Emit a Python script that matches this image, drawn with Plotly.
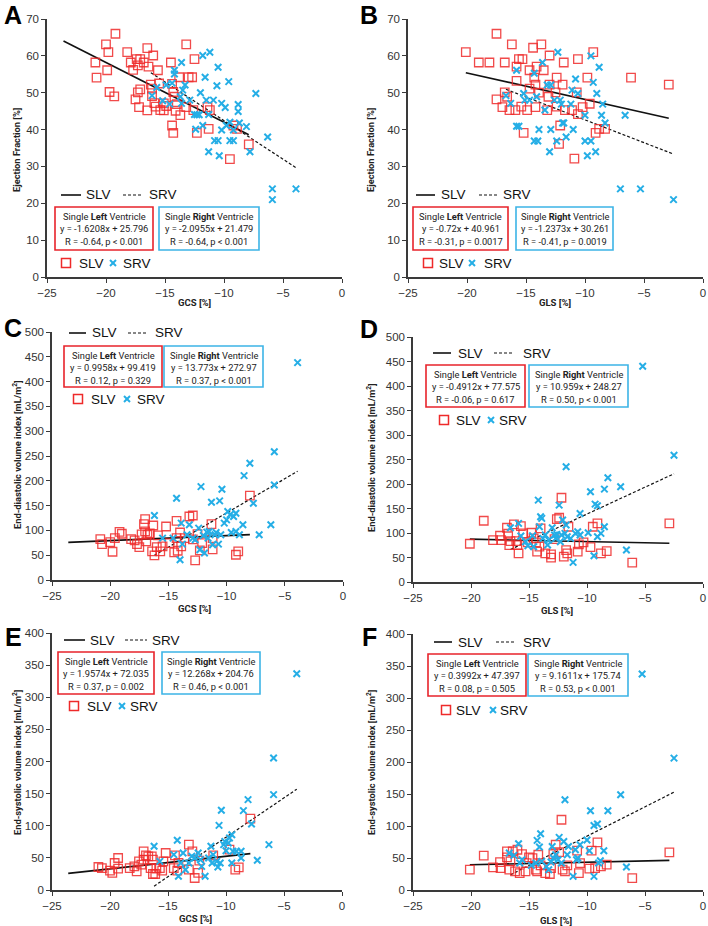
import plotly.graph_objects as go

# ---- data ----
# A: EF vs GCS
ef_gcs_slv_x = [-20.9, -20.8, -20.0, -19.8, -19.9, -19.7, -19.2, -19.3, -18.2, -17.9, -17.7, -17.4, -17.3, -17.1, -17.1, -17.3, -17.5, -17.2, -16.8, -16.5, -16.4, -16.5, -16.0, -16.2, -16.1, -16.1, -15.9, -15.8, -15.6, -15.5, -15.4, -15.1, -15.1, -14.5, -14.4, -14.3, -14.4, -14.3, -14.2, -14.1, -13.8, -13.7, -13.2, -13.0, -12.7, -12.5, -12.6, -12.3, -13.2, -11.4, -11.3, -11.2, -9.2, -8.9, -7.9, -9.5, -14.9, -14.0]
ef_gcs_slv_y = [58.2, 54.1, 63.1, 61.0, 56.1, 50.2, 66.0, 49.0, 61.0, 58.2, 56.2, 59.1, 57.4, 59.1, 50.9, 50.1, 48.2, 46.1, 58.2, 62.1, 57.1, 45.2, 60.1, 52.2, 51.1, 49.1, 47.2, 46.2, 56.1, 52.5, 45.3, 47.1, 45.2, 58.2, 52.4, 50.2, 41.1, 39.1, 48.9, 45.1, 54.2, 43.9, 63.1, 54.2, 54.2, 59.1, 45.3, 39.1, 46.1, 46.1, 40.2, 45.3, 41.1, 40.2, 36.0, 32.0, 46.4, 46.9]
ef_gcs_srv_x = [-16.1, -15.7, -15.2, -14.9, -14.2, -14.2, -14.4, -14.6, -13.6, -13.5, -13.3, -13.7, -13.6, -12.9, -12.5, -12.3, -12.1, -12.4, -11.8, -11.2, -11.6, -12.0, -11.5, -11.3, -11.8, -11.3, -10.9, -10.8, -10.6, -10.5, -10.5, -10.4, -10.2, -9.9, -10.2, -9.8, -9.6, -9.5, -9.5, -9.2, -9.2, -8.8, -8.8, -8.7, -8.1, -7.8, -7.3, -6.3, -5.9, -5.9, -3.9]
ef_gcs_srv_y = [49.2, 51.4, 47.8, 52.1, 56.1, 55.1, 52.6, 46.9, 58.2, 50.7, 52.1, 48.9, 47.1, 48.0, 44.1, 44.0, 44.0, 40.1, 60.1, 61.0, 54.2, 50.0, 48.0, 44.1, 41.1, 34.0, 48.0, 37.0, 51.9, 56.9, 37.0, 32.9, 47.1, 46.0, 39.9, 41.1, 53.0, 42.0, 37.0, 37.0, 39.9, 46.8, 44.9, 41.8, 40.8, 34.0, 49.8, 38.0, 23.9, 21.0, 23.9]

# B: EF vs GLS
ef_gls_slv_x = [-20.1, -19.0, -18.1, -17.5, -17.5, -17.0, -16.8, -16.8, -16.6, -16.4, -16.2, -15.9, -15.8, -15.8, -15.6, -15.4, -15.3, -15.2, -14.9, -14.7, -14.7, -14.4, -14.3, -14.2, -14.2, -14.1, -13.9, -13.7, -13.5, -13.2, -13.1, -13.0, -13.0, -12.5, -12.4, -12.4, -12.2, -11.9, -11.8, -12.1, -11.7, -11.1, -10.9, -10.7, -10.6, -10.6, -10.2, -9.8, -9.6, -9.3, -9.1, -8.8, -8.3, -6.1, -2.9]
ef_gls_slv_y = [61.0, 58.2, 58.2, 66.0, 48.2, 46.1, 58.2, 50.1, 48.9, 45.3, 63.1, 45.3, 57.1, 53.2, 59.1, 46.2, 59.1, 39.1, 45.3, 56.1, 51.1, 62.2, 54.1, 52.2, 46.1, 57.1, 50.0, 63.1, 56.1, 45.3, 48.9, 52.2, 60.1, 50.1, 54.1, 46.2, 36.1, 52.2, 58.2, 41.1, 45.3, 45.3, 32.1, 50.1, 59.1, 44.2, 46.1, 54.1, 47.0, 61.0, 39.1, 40.2, 40.2, 54.1, 52.2]
ef_gls_srv_x = [-16.7, -16.3, -15.8, -15.8, -15.6, -15.2, -15.1, -14.7, -14.3, -14.3, -14.0, -14.1, -13.9, -13.6, -13.4, -13.2, -12.9, -13.0, -12.9, -12.6, -12.3, -12.4, -12.1, -12.0, -11.9, -11.8, -11.6, -11.2, -11.1, -11.0, -10.8, -10.6, -10.0, -10.0, -9.8, -9.5, -9.5, -9.3, -9.1, -9.0, -8.8, -8.6, -8.5, -8.3, -6.6, -7.0, -5.3, -2.5]
ef_gls_srv_y = [49.2, 47.1, 56.1, 40.9, 40.9, 49.8, 48.0, 48.0, 55.3, 36.9, 36.9, 48.9, 40.0, 58.2, 45.3, 52.1, 52.1, 34.0, 40.0, 48.0, 61.0, 36.9, 48.0, 46.9, 41.8, 41.8, 38.0, 46.9, 50.7, 40.0, 53.7, 49.8, 43.9, 36.9, 32.9, 36.9, 60.0, 52.8, 34.0, 49.8, 56.9, 43.9, 46.9, 41.8, 43.9, 23.9, 23.9, 21.0]

# C: EDVi vs GCS
edv_gcs_slv_x = [-20.85, -20.7, -20.0, -19.8, -19.6, -19.2, -19.0, -18.2, -17.9, -17.7, -17.5, -17.3, -17.1, -17.0, -17.0, -16.9, -16.8, -16.6, -16.4, -16.3, -16.2, -16.0, -15.9, -15.7, -15.5, -15.2, -14.9, -14.5, -14.3, -14.3, -14.2, -14.0, -13.9, -13.6, -13.2, -12.9, -12.9, -12.7, -12.5, -12.3, -12.1, -11.3, -11.2, -11.2, -9.2, -9.0, -8.0]
edv_gcs_slv_y = [82.4, 72.4, 76.4, 57.0, 84.5, 97.2, 93.2, 82.4, 79.8, 72.4, 66.4, 91.8, 112.6, 122.7, 97.9, 77.7, 91.2, 93.8, 57.6, 109.9, 49.6, 66.4, 89.8, 57.6, 67.7, 107.9, 74.4, 55.6, 84.5, 119.3, 59.0, 95.8, 67.7, 84.5, 128.0, 130.0, 81.8, 39.5, 92.5, 59.7, 74.4, 112.6, 61.7, 84.5, 50.9, 57.6, 170.2]
edv_gcs_srv_x = [-16.2, -15.5, -14.6, -14.3, -13.9, -13.8, -14.0, -13.4, -13.2, -12.9, -12.7, -12.4, -12.2, -12.3, -12.0, -11.9, -11.7, -11.6, -11.5, -11.3, -11.2, -11.0, -10.9, -10.6, -10.7, -10.4, -10.5, -10.2, -10.0, -9.9, -9.7, -9.6, -9.4, -9.2, -9.2, -8.9, -8.6, -8.5, -8.0, -7.7, -7.2, -6.2, -5.9, -5.9, -3.9]
edv_gcs_srv_y = [130.0, 84.5, 84.5, 164.9, 114.6, 72.4, 40.9, 91.2, 111.3, 84.5, 81.1, 104.6, 188.3, 61.0, 89.8, 54.3, 96.5, 84.5, 97.9, 156.8, 71.0, 91.2, 95.8, 159.5, 72.4, 183.0, 91.2, 114.6, 121.3, 138.1, 131.4, 95.8, 128.0, 134.7, 97.9, 91.2, 111.3, 210.5, 235.3, 154.8, 91.2, 111.3, 191.7, 258.7, 438.3]

# D: EDVi vs GLS
edv_gls_slv_x = [-20.1, -18.9, -18.1, -17.5, -17.4, -16.9, -16.8, -16.7, -16.6, -16.3, -16.1, -16.0, -15.9, -15.7, -15.5, -15.1, -14.8, -14.6, -14.4, -14.3, -14.1, -14.0, -13.6, -13.1, -13.1, -12.8, -12.6, -12.4, -12.2, -12.0, -11.8, -11.7, -11.6, -10.8, -10.7, -10.3, -9.5, -9.7, -9.1, -8.8, -8.3, -6.1, -2.9]
edv_gls_slv_y = [78.1, 125.0, 85.6, 94.4, 85.6, 110.7, 98.5, 75.4, 83.6, 117.5, 83.6, 75.4, 58.4, 114.1, 99.2, 80.8, 100.5, 89.0, 80.8, 61.8, 72.0, 109.4, 58.4, 49.6, 56.4, 87.6, 128.4, 131.1, 171.9, 51.6, 65.2, 58.4, 112.8, 61.8, 76.8, 80.8, 112.8, 71.3, 119.6, 58.4, 63.2, 39.4, 119.6]
edv_gls_srv_x = [-16.6, -15.9, -15.7, -15.3, -15.1, -14.7, -14.6, -14.2, -14.1, -14.0, -13.9, -13.8, -13.6, -13.4, -13.3, -13.0, -12.8, -12.7, -12.6, -12.4, -12.3, -12.2, -12.1, -11.9, -11.8, -11.8, -11.7, -11.4, -11.2, -11.0, -10.8, -10.6, -10.6, -9.9, -9.7, -9.4, -9.3, -9.1, -9.1, -8.8, -8.5, -8.5, -8.2, -7.1, -6.6, -5.2, -2.5]
edv_gls_srv_y = [110.7, 119.6, 93.8, 82.2, 74.0, 94.4, 72.0, 167.1, 112.8, 133.2, 129.8, 89.0, 95.8, 75.4, 85.6, 110.7, 95.8, 89.0, 97.1, 156.9, 82.2, 95.8, 126.4, 99.2, 235.1, 116.2, 92.4, 89.0, 40.1, 99.2, 102.6, 95.8, 139.9, 100.5, 184.1, 53.7, 159.0, 155.6, 92.4, 99.2, 189.5, 112.8, 212.6, 194.3, 65.2, 440.2, 258.8]

# E: ESVi vs GCS
esv_gcs_slv_x = [-21.0, -20.7, -20.0, -19.8, -19.6, -19.3, -19.3, -18.3, -17.9, -17.7, -17.5, -17.3, -17.1, -17.1, -16.9, -16.7, -16.5, -16.4, -16.3, -16.3, -16.1, -16.0, -15.7, -15.5, -15.4, -15.2, -14.5, -14.4, -14.2, -14.1, -13.2, -13.2, -12.9, -12.7, -12.4, -12.3, -11.1, -9.7, -9.2, -8.9, -7.9]
esv_gcs_slv_y = [35.8, 34.2, 30.1, 26.5, 42.0, 49.8, 33.2, 34.2, 36.8, 29.1, 44.6, 39.4, 60.2, 47.2, 54.0, 52.4, 34.2, 52.4, 47.2, 24.9, 24.9, 33.2, 34.2, 30.1, 44.6, 57.6, 34.2, 54.0, 30.1, 42.0, 70.6, 31.6, 60.2, 18.7, 26.5, 45.7, 54.0, 62.8, 31.6, 35.3, 111.0]
esv_gcs_srv_x = [-16.2, -15.7, -14.5, -14.2, -14.1, -13.9, -13.7, -13.5, -13.2, -12.95, -12.7, -12.4, -12.2, -12.1, -11.8, -11.5, -11.3, -11.2, -11.1, -10.8, -10.7, -10.6, -10.5, -10.4, -10.2, -10.1, -10.0, -9.8, -9.7, -9.5, -9.4, -9.5, -9.1, -8.7, -8.7, -8.5, -8.1, -7.8, -7.3, -6.3, -5.9, -5.9, -3.9]
esv_gcs_srv_y = [68.0, 44.6, 55.0, 77.3, 21.3, 42.0, 57.6, 31.6, 42.0, 52.4, 49.8, 57.6, 47.2, 36.8, 21.3, 49.8, 68.0, 42.0, 55.0, 44.6, 35.8, 100.6, 42.0, 124.0, 70.6, 75.7, 61.2, 73.1, 80.9, 86.1, 60.2, 42.0, 60.2, 49.8, 60.2, 123.5, 140.6, 102.7, 46.2, 70.6, 148.4, 205.4, 336.7]

# F: ESVi vs GLS
esv_gls_slv_x = [-20.1, -18.9, -18.1, -17.5, -17.45, -16.9, -16.9, -16.7, -16.6, -16.4, -16.2, -16.0, -15.8, -15.6, -15.3, -15.2, -15.0, -14.7, -14.4, -14.3, -14.2, -14.0, -13.6, -13.2, -13.1, -12.9, -12.7, -12.4, -12.2, -12.1, -11.9, -11.7, -10.85, -10.7, -10.6, -9.8, -9.6, -9.3, -9.1, -8.8, -8.3, -6.1, -2.9]
esv_gls_slv_y = [31.7, 53.6, 35.4, 43.7, 34.3, 60.3, 51.0, 31.7, 44.7, 60.3, 29.1, 62.9, 26.5, 56.2, 29.1, 42.1, 51.0, 49.9, 31.7, 29.1, 55.1, 38.5, 26.5, 25.0, 34.3, 56.2, 70.7, 59.3, 109.8, 31.7, 29.1, 38.5, 61.4, 26.5, 42.1, 33.3, 61.4, 34.3, 74.4, 36.9, 39.5, 18.7, 58.8]
esv_gls_srv_x = [-16.7, -16.3, -15.9, -15.8, -15.6, -14.8, -14.4, -14.3, -14.1, -14.0, -13.9, -13.5, -13.3, -13.1, -13.0, -12.9, -12.7, -12.5, -12.4, -12.2, -12.0, -11.9, -11.7, -11.6, -11.2, -11.0, -10.9, -10.8, -10.6, -10.0, -9.8, -9.7, -9.4, -9.4, -9.1, -9.0, -8.85, -8.55, -8.2, -7.1, -6.6, -5.25, -2.5]
esv_gls_srv_y = [57.7, 54.1, 72.3, 42.1, 47.3, 38.5, 42.1, 77.5, 67.1, 87.9, 44.7, 36.9, 31.7, 43.7, 68.1, 49.9, 55.1, 47.3, 82.2, 42.1, 75.9, 141.0, 55.1, 68.1, 21.3, 62.9, 47.3, 49.9, 70.7, 78.0, 61.4, 123.8, 21.3, 100.9, 103.0, 42.1, 45.8, 61.4, 123.8, 148.8, 35.9, 337.6, 206.0]

# regression fits (slope, intercept) and trendline x extents
slv_fit = [(-1.6208, 25.796), (-0.72, 40.961), (0.9958, 99.419), (-0.4912, 77.575), (1.9574, 72.035), (0.3992, 47.397)]
srv_fit = [(-2.0955, 21.479), (-1.2373, 30.261), (13.773, 272.97), (10.959, 248.27), (12.268, 204.76), (9.1611, 175.74)]
slv_line_x = [(-23.6, -7.9), (-20.1, -2.9), (-23.6, -8.0), (-20.1, -2.9), (-23.6, -7.9), (-20.1, -2.9)]
srv_line_x = [(-16.2, -3.9), (-16.7, -2.5), (-16.2, -3.9), (-16.6, -2.5), (-16.2, -3.9), (-16.6, -2.5)]
slv_stats = ["R = -0.64, p < 0.001", "R = -0.31, p = 0.0017", "R = 0.12, p = 0.329",
             "R = -0.06, p = 0.617", "R = 0.37, p = 0.002", "R = 0.08, p = 0.505"]
srv_stats = ["R = -0.64, p < 0.001", "R = -0.41, p = 0.0019", "R = 0.37, p < 0.001",
             "R = 0.50, p < 0.001", "R = 0.46, p < 0.001", "R = 0.53, p < 0.001"]

panel_letters = ["A", "B", "C", "D", "E", "F"]
x_titles = ["GCS [%]", "GLS [%]", "GCS [%]", "GLS [%]", "GCS [%]", "GLS [%]"]
y_titles = ["Ejection Fraction [%]", "Ejection Fraction [%]",
            "End-diastolic volume index [mL/m<sup>2</sup>]", "End-diastolic volume index [mL/m<sup>2</sup>]",
            "End-systolic volume index [mL/m<sup>2</sup>]", "End-systolic volume index [mL/m<sup>2</sup>]"]
y_ranges = [(0, 70, 10), (0, 70, 10), (0, 500, 50), (0, 500, 50), (0, 400, 50), (0, 400, 50)]

series = [
    (ef_gcs_slv_x, ef_gcs_slv_y, ef_gcs_srv_x, ef_gcs_srv_y),
    (ef_gls_slv_x, ef_gls_slv_y, ef_gls_srv_x, ef_gls_srv_y),
    (edv_gcs_slv_x, edv_gcs_slv_y, edv_gcs_srv_x, edv_gcs_srv_y),
    (edv_gls_slv_x, edv_gls_slv_y, edv_gls_srv_x, edv_gls_srv_y),
    (esv_gcs_slv_x, esv_gcs_slv_y, esv_gcs_srv_x, esv_gcs_srv_y),
    (esv_gls_slv_x, esv_gls_slv_y, esv_gls_srv_x, esv_gls_srv_y),
]

# ---- layout in pixels ----
W, H = 708, 926
RED = "#ee2a2a"
BLUE = "#25aee6"
BOX_RED = "#e8232b"
BOX_BLUE = "#3cb4e6"


def px(x):
    return x / W


def py(y):
    return 1 - y / H


def note(x, y, text, font, xanchor="center", **kw):
    return dict(x=px(x), y=py(y), xref="paper", yref="paper", showarrow=False, text=text,
                font=font, xanchor=xanchor, yanchor="middle", **kw)


# plot areas: left, right, top, bottom
areas = [(47, 342, 19, 277), (408, 703, 19, 277),
         (52, 343, 332, 580), (413, 703, 337, 582),
         (52, 342, 633, 890), (413, 703, 634, 890)]
# in-plot legend layout per panel
legends = [
    dict(ly=195, solid=(61, 81), slv_t=84, dash=(123, 143), srv_t=147,
         red=(55, 153), blue=(159, 259), by=(207, 250), my=263, sq=66, slv2=77, xm=113, srv2=121),
    dict(ly=195, solid=(416, 435), slv_t=439, dash=(479, 497), srv_t=501,
         red=(413, 508), blue=(516, 613), by=(207, 250), my=263, sq=428, slv2=437, xm=472, srv2=482),
    dict(ly=333, solid=(69, 86), slv_t=90, dash=(128, 148), srv_t=153,
         red=(64, 162), blue=(164, 263), by=(346, 387), my=399, sq=78, slv2=89, xm=127, srv2=135),
    dict(ly=353, solid=(433, 451), slv_t=456, dash=(494, 514), srv_t=521,
         red=(426, 525), blue=(529, 628), by=(365, 407), my=420, sq=444, slv2=454, xm=491, srv2=497),
    dict(ly=640, solid=(64, 85), slv_t=88, dash=(125, 147), srv_t=150,
         red=(58, 154), blue=(162, 260), by=(652, 694), my=706, sq=74, slv2=85, xm=122, srv2=128),
    dict(ly=642, solid=(434, 452), slv_t=456, dash=(496, 516), srv_t=521,
         red=(428, 526), blue=(528, 628), by=(654, 696), my=710, sq=446, slv2=454, xm=493, srv2=498),
]
letter_pos = [(13, 15), (369, 15), (13, 328), (369, 329), (13, 637), (369, 637)]
ytitle_pos = [(17, 150), (371, 150), (17, 455), (371, 458), (17, 762), (371, 762)]
xtitle_pos = [(195, 302), (555, 302), (195, 608), (557, 610), (196, 918), (556, 920)]

fig = go.Figure()
shapes = []
annotations = []
layout_axes = {}

for i in range(6):
    ax = "" if i == 0 else str(i + 1)
    sx, sy, rx, ry = series[i]

    # trendlines
    a, b = slv_fit[i]
    x0, x1 = slv_line_x[i]
    fig.add_trace(go.Scatter(x=[x0, x1], y=[a * x0 + b, a * x1 + b], mode="lines",
                             line=dict(color="#111111", width=1.6),
                             xaxis="x" + ax, yaxis="y" + ax, showlegend=False, hoverinfo="skip"))
    a, b = srv_fit[i]
    x0, x1 = srv_line_x[i]
    fig.add_trace(go.Scatter(x=[x0, x1], y=[a * x0 + b, a * x1 + b], mode="lines",
                             line=dict(color="#111111", width=1.2, dash="3px,2px"),
                             xaxis="x" + ax, yaxis="y" + ax, showlegend=False, hoverinfo="skip"))

    # scatter points
    fig.add_trace(go.Scatter(x=sx, y=sy, mode="markers",
                             marker=dict(symbol="square-open", size=8.5, color=RED, opacity=0.85,
                                         line=dict(width=1.3)),
                             xaxis="x" + ax, yaxis="y" + ax, showlegend=False))
    fig.add_trace(go.Scatter(x=rx, y=ry, mode="markers",
                             marker=dict(symbol="x-thin", size=6.5, color=BLUE,
                                         line=dict(width=2, color=BLUE)),
                             xaxis="x" + ax, yaxis="y" + ax, showlegend=False))

    l, r, t, btm = areas[i]
    y0, y1, dy = y_ranges[i]
    common = dict(showgrid=False, zeroline=False, showline=True, linecolor="#3a3a3a",
                  linewidth=1.5, ticks="outside", ticklen=4, tickcolor="#3a3a3a", tickwidth=1.2,
                  automargin=False,
                  tickfont=dict(family="Liberation Sans, Arial", size=11.5, color="#333333"))
    layout_axes["xaxis" + ax] = dict(common, domain=[px(l), px(r)], range=[-25, 0], dtick=5,
                                     anchor="y" + ax)
    layout_axes["yaxis" + ax] = dict(common, domain=[py(btm), py(t)], range=[y0, y1], dtick=dy,
                                     anchor="x" + ax)

    # panel letter and axis titles
    lx, lyy = letter_pos[i]
    annotations.append(note(lx, lyy, "<b>%s</b>" % panel_letters[i],
                            dict(family="Liberation Sans, Arial", size=25, color="black")))
    tx, ty = ytitle_pos[i]
    annotations.append(note(tx, ty, "<b>%s</b>" % y_titles[i],
                            dict(family="Roboto, Open Sans", size=9.3, color="#222222"), textangle=-90))
    tx, ty = xtitle_pos[i]
    annotations.append(note(tx, ty, "<b>%s</b>" % x_titles[i],
                            dict(family="Roboto, Open Sans", size=9.5, color="#222222")))

    # in-plot legend: trendline keys
    lg = legends[i]
    shapes.append(dict(type="line", xref="paper", yref="paper", x0=px(lg["solid"][0]), x1=px(lg["solid"][1]),
                       y0=py(lg["ly"]), y1=py(lg["ly"]), line=dict(color="#111111", width=1.6)))
    shapes.append(dict(type="line", xref="paper", yref="paper", x0=px(lg["dash"][0]), x1=px(lg["dash"][1]),
                       y0=py(lg["ly"]), y1=py(lg["ly"]), line=dict(color="#111111", width=1.2, dash="3px,2px")))
    key_font = dict(family="Liberation Sans, Arial", size=13.5, color="#111111")
    annotations.append(note(lg["slv_t"], lg["ly"], "SLV", key_font, xanchor="left"))
    annotations.append(note(lg["srv_t"], lg["ly"], "SRV", key_font, xanchor="left"))

    # equation boxes
    by0, by1 = lg["by"]
    box_font = dict(family="Roboto, Open Sans", size=9.3, color="#222222")
    for (bx0, bx1), col, side, fit, st in [(lg["red"], BOX_RED, "Left", slv_fit[i], slv_stats[i]),
                                           (lg["blue"], BOX_BLUE, "Right", srv_fit[i], srv_stats[i])]:
        shapes.append(dict(type="rect", xref="paper", yref="paper", x0=px(bx0), x1=px(bx1),
                           y0=py(by1), y1=py(by0), line=dict(color=col, width=1.6), fillcolor="white"))
        sgn = "+" if fit[1] >= 0 else "-"
        eq = "y = %sx %s %s" % (("%g" % fit[0]), sgn, "%g" % abs(fit[1]))
        lines = ["Single <b>%s</b> Ventricle" % side, eq, st]
        for k, txt in enumerate(lines):
            annotations.append(note((bx0 + bx1) / 2, by0 + 9.5 + k * 12.3, txt, box_font))

    # marker key
    my = lg["my"]
    shapes.append(dict(type="rect", xref="paper", yref="paper", x0=px(lg["sq"] - 4.5), x1=px(lg["sq"] + 4.5),
                       y0=py(my + 4.5), y1=py(my - 4.5), line=dict(color=RED, width=1.5)))
    for dxs in (1, -1):
        shapes.append(dict(type="line", xref="paper", yref="paper", x0=px(lg["xm"] - 3), x1=px(lg["xm"] + 3),
                           y0=py(my - 3 * dxs), y1=py(my + 3 * dxs), line=dict(color=BLUE, width=2)))
    annotations.append(note(lg["slv2"], my, "SLV", key_font, xanchor="left"))
    annotations.append(note(lg["srv2"], my, "SRV", key_font, xanchor="left"))

fig.update_layout(
    width=W, height=H, autosize=False,
    margin=dict(l=0, r=0, t=0, b=0, autoexpand=False),
    paper_bgcolor="white", plot_bgcolor="white",
    showlegend=False,
    shapes=shapes, annotations=annotations,
    **layout_axes
)

# drop the browser's default body margin so the figure sits at the page corner
fig.write_html("out.html", config={"displayModeBar": False},
               post_script="document.body.style.margin='0';")
